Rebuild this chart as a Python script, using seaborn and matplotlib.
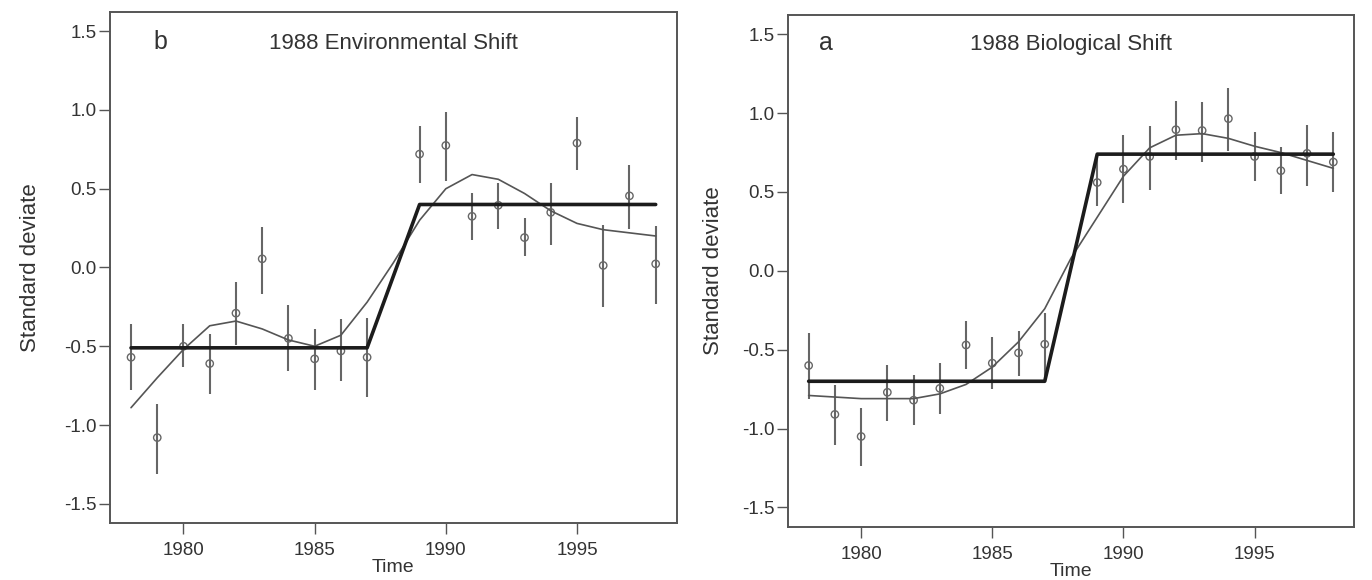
import matplotlib
matplotlib.use("Agg")
import matplotlib.pyplot as plt
import seaborn as sns
import numpy as np

# ---------------- data ----------------
years_all = [1978, 1979, 1980, 1981, 1982, 1983, 1984, 1985, 1986, 1987, 1988,
             1989, 1990, 1991, 1992, 1993, 1994, 1995, 1996, 1997, 1998]
pt_years = [1978, 1979, 1980, 1981, 1982, 1983, 1984, 1985, 1986, 1987,
            1989, 1990, 1991, 1992, 1993, 1994, 1995, 1996, 1997, 1998]

# Panel b: 1988 Environmental Shift
env_vals = [-0.57, -1.08, -0.50, -0.61, -0.29, 0.055, -0.45, -0.58, -0.53, -0.57,
            0.72, 0.775, 0.325, 0.395, 0.19, 0.35, 0.79, 0.013, 0.455, 0.023]
env_lo = [-0.78, -1.31, -0.63, -0.80, -0.49, -0.17, -0.66, -0.78, -0.72, -0.82,
          0.535, 0.55, 0.175, 0.245, 0.07, 0.145, 0.62, -0.25, 0.245, -0.23]
env_hi = [-0.36, -0.865, -0.36, -0.42, -0.09, 0.26, -0.24, -0.39, -0.33, -0.32,
          0.90, 0.99, 0.47, 0.535, 0.315, 0.535, 0.955, 0.27, 0.65, 0.265]
env_smooth = [-0.89, -0.70, -0.52, -0.37, -0.34, -0.39, -0.46, -0.50, -0.43, -0.22, 0.03,
              0.30, 0.50, 0.59, 0.56, 0.47, 0.36, 0.28, 0.24, 0.22, 0.20]
step_years = [1978, 1987, 1989, 1998]
env_step = [-0.51, -0.51, 0.40, 0.40]

# Panel a: 1988 Biological Shift
bio_vals = [-0.60, -0.91, -1.05, -0.77, -0.82, -0.745, -0.47, -0.585, -0.52, -0.465,
            0.56, 0.645, 0.725, 0.895, 0.89, 0.965, 0.725, 0.635, 0.745, 0.69]
bio_lo = [-0.815, -1.105, -1.24, -0.955, -0.98, -0.91, -0.62, -0.75, -0.665, -0.69,
          0.41, 0.43, 0.51, 0.70, 0.69, 0.76, 0.57, 0.485, 0.535, 0.50]
bio_hi = [-0.395, -0.725, -0.87, -0.60, -0.66, -0.585, -0.315, -0.42, -0.38, -0.27,
          0.725, 0.86, 0.92, 1.08, 1.07, 1.16, 0.88, 0.785, 0.925, 0.88]
bio_smooth = [-0.79, -0.80, -0.81, -0.81, -0.81, -0.78, -0.72, -0.61, -0.45, -0.24, 0.08,
              0.34, 0.60, 0.78, 0.86, 0.87, 0.84, 0.79, 0.75, 0.70, 0.65]
bio_step = [-0.70, -0.70, 0.74, 0.74]

yticks = [-1.5, -1.0, -0.5, 0.0, 0.5, 1.0, 1.5]
ytick_labels = ["-1.5", "-1.0", "-0.5", "0.0", "0.5", "1.0", "1.5"]
xticks = [1980, 1985, 1990, 1995]
xtick_labels = ["1980", "1985", "1990", "1995"]

# ---------------- style ----------------
sns.set_style("ticks")
plt.rcParams["font.family"] = ["Liberation Sans", "DejaVu Sans"]
plt.rcParams["axes.unicode_minus"] = False

TXT = "#333333"
SPINE = "#555555"
GRAY = "#666666"
THIN = "#555555"
THICK = "#1c1c1c"

fig = plt.figure(figsize=(13.72, 5.80), dpi=100)
ax1 = fig.add_axes([0.0802, 0.0983, 0.4130, 0.8810])
ax2 = fig.add_axes([0.5741, 0.0919, 0.4130, 0.8822])


def draw_panel(ax, vals, lo, hi, smooth, step, letter, title, letter_x, text_y, ylab_x):
    ax.vlines(pt_years, lo, hi, colors=GRAY, linewidth=1.5, zorder=2)
    sns.scatterplot(x=pt_years, y=vals, ax=ax, marker="o", s=28,
                    facecolors="none", edgecolor=GRAY, linewidth=1.0, zorder=3)
    sns.lineplot(x=years_all, y=smooth, ax=ax, color=THIN, linewidth=1.2, zorder=4)
    sns.lineplot(x=step_years, y=step, ax=ax, color=THICK, linewidth=2.6, zorder=5)

    ax.set_xlim(1977.2, 1998.8)
    ax.set_ylim(-1.622, 1.622)
    ax.set_xticks(xticks)
    ax.set_xticklabels(xtick_labels)
    ax.set_yticks(yticks)
    ax.set_yticklabels(ytick_labels)

    for sp in ax.spines.values():
        sp.set_visible(True)
        sp.set_color(SPINE)
        sp.set_linewidth(1.4)

    ax.tick_params(axis="both", direction="out", length=8, width=1.0,
                   color=SPINE, labelcolor=TXT, labelsize=13.5)
    ax.tick_params(axis="y", pad=1.5)
    ax.tick_params(axis="x", pad=6)

    ax.set_xlabel("Time", fontsize=14, color=TXT, labelpad=0)
    ax.set_ylabel("Standard deviate", fontsize=16, color=TXT)
    ax.yaxis.set_label_coords(ylab_x, 0.5)

    ax.text(letter_x, text_y, letter, transform=ax.transAxes, fontsize=18,
            color=TXT, ha="left", va="baseline")
    ax.text(0.5, text_y, title, transform=ax.transAxes, fontsize=16,
            color=TXT, ha="center", va="baseline")


draw_panel(ax1, env_vals, env_lo, env_hi, env_smooth, env_step,
           "b", "1988 Environmental Shift", 0.077, 0.928, -0.122)
draw_panel(ax2, bio_vals, bio_lo, bio_hi, bio_smooth, bio_step,
           "a", "1988 Biological Shift", 0.055, 0.931, -0.112)

fig.savefig("out.png", dpi=100)
